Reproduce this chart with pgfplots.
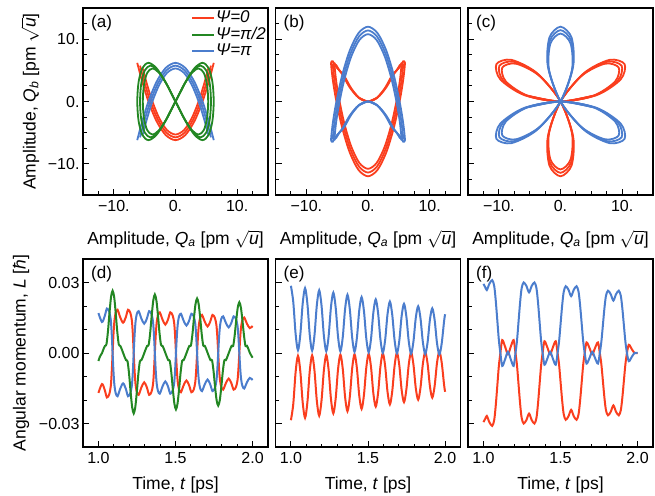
\documentclass[border=0pt]{standalone}
\usepackage{pgfplots}
\pgfplotsset{compat=1.18}
\usepackage{fontspec}
\setmainfont{Liberation Sans}
\definecolor{cred}{RGB}{250,62,30}
\definecolor{cgreen}{RGB}{35,135,35}
\definecolor{cblue}{RGB}{75,125,205}
\pgfplotsset{
  panel/.style={scale only axis, anchor=south west, axis line style={line width=1.2pt},
    tick style={line width=0.9pt, black}, tick align=inside, tick pos=left,
    major tick length=6pt, minor tick length=3.5pt,
    scaled x ticks=false, scaled y ticks=false,
    ticklabel style={font=\fontsize{16}{16}\selectfont},
    xticklabel style={yshift=-2pt},
    label style={font=\fontsize{17.5}{20}\selectfont}},
  toprow/.style={panel, width=185pt, height=187pt, xmin=-15, xmax=15, ymin=-15, ymax=15,
    xtick={-10,0,10}, ytick={-10,0,10},
    minor xtick={-12.5,-7.5,-5,-2.5,2.5,5,7.5,12.5},
    minor ytick={-12.5,-7.5,-5,-2.5,2.5,5,7.5,12.5},
    xticklabels={−10.,0.,10.}, yticklabels={,,},
    xlabel={Amplitude, \textit{Q}\textsubscript{\textit{a}} [pm $\sqrt{\textit{u}}$]},
    xlabel style={at={(axis description cs:0.5,-0.235)}, anchor=center}},
  botrow/.style={panel, width=185pt, height=188pt, xmin=0.9, xmax=2.1, ymin=-0.04, ymax=0.04,
    xtick={1,1.5,2}, ytick={-0.03,0,0.03},
    minor xtick={1.1,1.2,1.3,1.4,1.6,1.7,1.8,1.9},
    minor ytick={-0.02,-0.01,0.01,0.02},
    xticklabels={1.0,1.5,2.0}, yticklabels={,,},
    xlabel={Time, \textit{t} [ps]},
    xlabel style={at={(axis description cs:0.5,-0.20)}, anchor=center}},
  band/.style={line width=1.8pt, smooth, forget plot},
  ts/.style={line width=2pt, smooth, forget plot},
}
\newcommand{\plabel}[1]{\node[anchor=north west, inner sep=0pt, font=\fontsize{17}{17}\selectfont] at (rel axis cs:0,1) [xshift=8pt, yshift=-7pt] {#1};}
\begin{document}
\begin{tikzpicture}
\path[use as bounding box] (0pt,0pt) rectangle (655pt,495pt);
% ---------------- (a)
\begin{axis}[toprow, at={(83pt,300pt)}, yticklabels={−10.,0.,10.},
  ylabel={Amplitude, \textit{Q}\textsubscript{\textit{b}} [pm $\sqrt{\textit{u}}$]},
  ylabel style={at={(axis description cs:-0.286,0.5)}, anchor=center},
  legend style={at={(1,1)}, anchor=north east, draw=none, fill=none, yshift=-2pt,
    font=\fontsize{17}{17}\selectfont\itshape, row sep=2pt, inner sep=1pt,
    nodes={inner xsep=1pt, inner ysep=0pt, text height=11.5pt, text depth=3pt}},
  legend cell align=left,
  legend image code/.code={\draw[#1] (0pt,0pt) -- (22pt,0pt);}]
\addlegendimage{cred, line width=2pt}\addlegendentry{Ψ=0}
\addlegendimage{cgreen, line width=2pt}\addlegendentry{Ψ=π/2}
\addlegendimage{cblue, line width=2pt}\addlegendentry{Ψ=π}
\addplot[cred, band] coordinates {(-6.2,6.2) (-5.989,5.369) (-5.369,3.1) (-4.384,0) (-3.1,-3.1) (-1.606,-5.369) (0,-6.2) (1.606,-5.369) (3.1,-3.1) (4.384,0) (5.369,3.1) (5.989,5.369) (6.2,6.2)};
\addplot[cred, band] coordinates {(-5.75,5.75) (-5.555,4.98) (-4.98,2.875) (-4.065,0) (-2.875,-2.875) (-1.489,-4.98) (0,-5.75) (1.489,-4.98) (2.875,-2.875) (4.065,0) (4.98,2.875) (5.555,4.98) (5.75,5.75)};
\addplot[cred, band] coordinates {(-5.3,5.3) (-5.12,4.59) (-4.59,2.65) (-3.747,0) (-2.65,-2.65) (-1.373,-4.59) (0,-5.3) (1.373,-4.59) (2.65,-2.65) (3.747,0) (4.59,2.65) (5.12,4.59) (5.3,5.3)};
\addplot[cblue, band] coordinates {(-6.2,-6.2) (-5.989,-5.369) (-5.369,-3.1) (-4.384,0) (-3.1,3.1) (-1.606,5.369) (0,6.2) (1.606,5.369) (3.1,3.1) (4.384,0) (5.369,-3.1) (5.989,-5.369) (6.2,-6.2)};
\addplot[cblue, band] coordinates {(-5.75,-5.75) (-5.555,-4.98) (-4.98,-2.875) (-4.065,0) (-2.875,2.875) (-1.489,4.98) (0,5.75) (1.489,4.98) (2.875,2.875) (4.065,0) (4.98,-2.875) (5.555,-4.98) (5.75,-5.75)};
\addplot[cblue, band] coordinates {(-5.3,-5.3) (-5.12,-4.59) (-4.59,-2.65) (-3.747,0) (-2.65,2.65) (-1.373,4.59) (0,5.3) (1.373,4.59) (2.65,2.65) (3.747,0) (4.59,-2.65) (5.12,-4.59) (5.3,-5.3)};
\addplot[cgreen, band] coordinates {(-1.606,-3.1) (0,0) (1.606,3.1) (3.1,5.369) (4.384,6.2) (5.369,5.369) (5.989,3.1) (6.2,0) (5.989,-3.1) (5.369,-5.369) (4.384,-6.2) (3.1,-5.369) (1.606,-3.1) (0,0) (-1.606,3.1) (-3.1,5.369) (-4.384,6.2) (-5.369,5.369) (-5.989,3.1) (-6.2,0) (-5.989,-3.1) (-5.369,-5.369) (-4.384,-6.2) (-3.1,-5.369) (-1.606,-3.1) (0,0) (1.606,3.1)};
\addplot[cgreen, band] coordinates {(-1.489,-2.875) (0,0) (1.489,2.875) (2.875,4.98) (4.065,5.75) (4.98,4.98) (5.555,2.875) (5.75,0) (5.555,-2.875) (4.98,-4.98) (4.065,-5.75) (2.875,-4.98) (1.489,-2.875) (0,0) (-1.489,2.875) (-2.875,4.98) (-4.065,5.75) (-4.98,4.98) (-5.555,2.875) (-5.75,0) (-5.555,-2.875) (-4.98,-4.98) (-4.065,-5.75) (-2.875,-4.98) (-1.489,-2.875) (0,0) (1.489,2.875)};
\addplot[cgreen, band] coordinates {(-1.373,-2.65) (0,0) (1.373,2.65) (2.65,4.59) (3.747,5.3) (4.59,4.59) (5.12,2.65) (5.3,0) (5.12,-2.65) (4.59,-4.59) (3.747,-5.3) (2.65,-4.59) (1.373,-2.65) (0,0) (-1.373,2.65) (-2.65,4.59) (-3.747,5.3) (-4.59,4.59) (-5.12,2.65) (-5.3,0) (-5.12,-2.65) (-4.59,-4.59) (-3.747,-5.3) (-2.65,-4.59) (-1.373,-2.65) (0,0) (1.373,2.65)};
\plabel{(a)}
\end{axis}
% ---------------- (b)
\begin{axis}[toprow, at={(275.5pt,300pt)}]
\addplot[cred, band] coordinates {(-1.553,0.633) (0,0) (1.553,0.633) (3,2.32) (4.243,4.49) (5.196,5.6) (5.706,6.45) (5.967,6.3) (5.967,5.74) (5.706,3.45) (5.196,0.375) (4.243,-3.993) (3,-8.071) (1.553,-10.958) (0,-12) (-1.553,-10.958) (-3,-8.071) (-4.243,-3.993) (-5.196,0.375) (-5.706,3.45) (-5.967,5.74) (-5.967,6.3) (-5.706,6.45) (-5.196,5.6) (-4.243,4.49) (-3,2.32) (-1.553,0.633) (0,0) (1.553,0.633)};
\addplot[cred, band] coordinates {(-1.475,0.601) (0,0) (1.475,0.601) (2.85,2.204) (4.031,4.266) (4.936,5.32) (5.421,6.128) (5.669,5.985) (5.669,5.453) (5.421,3.278) (4.936,0.356) (4.031,-3.793) (2.85,-7.667) (1.475,-10.41) (0,-11.4) (-1.475,-10.41) (-2.85,-7.667) (-4.031,-3.793) (-4.936,0.356) (-5.421,3.278) (-5.669,5.453) (-5.669,5.985) (-5.421,6.128) (-4.936,5.32) (-4.031,4.266) (-2.85,2.204) (-1.475,0.601) (0,0) (1.475,0.601)};
\addplot[cred, band] coordinates {(-1.398,0.57) (0,0) (1.398,0.57) (2.7,2.088) (3.819,4.041) (4.676,5.04) (5.135,5.805) (5.37,5.67) (5.37,5.166) (5.135,3.105) (4.676,0.338) (3.819,-3.594) (2.7,-7.264) (1.398,-9.862) (0,-10.8) (-1.398,-9.862) (-2.7,-7.264) (-3.819,-3.594) (-4.676,0.338) (-5.135,3.105) (-5.37,5.166) (-5.37,5.67) (-5.135,5.805) (-4.676,5.04) (-3.819,4.041) (-2.7,2.088) (-1.398,0.57) (0,0) (1.398,0.57)};
\addplot[cblue, band] coordinates {(-1.553,-0.633) (0,0) (1.553,-0.633) (3,-2.32) (4.243,-4.49) (5.196,-5.6) (5.706,-6.45) (5.967,-6.3) (5.967,-5.74) (5.706,-3.45) (5.196,-0.375) (4.243,3.993) (3,8.071) (1.553,10.958) (0,12) (-1.553,10.958) (-3,8.071) (-4.243,3.993) (-5.196,-0.375) (-5.706,-3.45) (-5.967,-5.74) (-5.967,-6.3) (-5.706,-6.45) (-5.196,-5.6) (-4.243,-4.49) (-3,-2.32) (-1.553,-0.633) (0,0) (1.553,-0.633)};
\addplot[cblue, band] coordinates {(-1.475,-0.601) (0,0) (1.475,-0.601) (2.85,-2.204) (4.031,-4.266) (4.936,-5.32) (5.421,-6.128) (5.669,-5.985) (5.669,-5.453) (5.421,-3.278) (4.936,-0.356) (4.031,3.793) (2.85,7.667) (1.475,10.41) (0,11.4) (-1.475,10.41) (-2.85,7.667) (-4.031,3.793) (-4.936,-0.356) (-5.421,-3.278) (-5.669,-5.453) (-5.669,-5.985) (-5.421,-6.128) (-4.936,-5.32) (-4.031,-4.266) (-2.85,-2.204) (-1.475,-0.601) (0,0) (1.475,-0.601)};
\addplot[cblue, band] coordinates {(-1.398,-0.57) (0,0) (1.398,-0.57) (2.7,-2.088) (3.819,-4.041) (4.676,-5.04) (5.135,-5.805) (5.37,-5.67) (5.37,-5.166) (5.135,-3.105) (4.676,-0.338) (3.819,3.594) (2.7,7.264) (1.398,9.862) (0,10.8) (-1.398,9.862) (-2.7,7.264) (-3.819,3.594) (-4.676,-0.338) (-5.135,-3.105) (-5.37,-5.166) (-5.37,-5.67) (-5.135,-5.805) (-4.676,-5.04) (-3.819,-4.041) (-2.7,-2.088) (-1.398,-0.57) (0,0) (1.398,-0.57)};
\plabel{(b)}
\end{axis}
% ---------------- (c)
\begin{axis}[toprow, at={(468pt,300pt)}]
\addplot[cred, band] coordinates {(-5.909,1.042) (0,0) (5.909,1.042) (9.766,3.554) (10.392,6) (7.961,6.68) (3.857,4.596) (0,0) (-2.052,-5.638) (-1.805,-10.235) (0,-12) (1.805,-10.235) (2.052,-5.638) (0,0) (-3.857,4.596) (-7.961,6.68) (-10.392,6) (-9.766,3.554) (-5.909,1.042) (0,0) (5.909,1.042)};
\addplot[cred, band] coordinates {(-5.638,0.994) (0,0) (5.638,0.994) (9.318,3.391) (9.916,5.725) (7.596,6.374) (3.68,4.385) (0,0) (-1.958,-5.379) (-1.722,-9.766) (0,-11.45) (1.722,-9.766) (1.958,-5.379) (0,0) (-3.68,4.385) (-7.596,6.374) (-9.916,5.725) (-9.318,3.391) (-5.638,0.994) (0,0) (5.638,0.994)};
\addplot[cred, band] coordinates {(-5.367,0.946) (0,0) (5.367,0.946) (8.87,3.229) (9.439,5.45) (7.231,6.068) (3.503,4.175) (0,0) (-1.864,-5.121) (-1.639,-9.297) (0,-10.9) (1.639,-9.297) (1.864,-5.121) (0,0) (-3.503,4.175) (-7.231,6.068) (-9.439,5.45) (-8.87,3.229) (-5.367,0.946) (0,0) (5.367,0.946)};
\addplot[cblue, band] coordinates {(5.909,-1.042) (0,0) (-5.909,-1.042) (-9.766,-3.554) (-10.392,-6) (-7.961,-6.68) (-3.857,-4.596) (0,0) (2.052,5.638) (1.805,10.235) (0,12) (-1.805,10.235) (-2.052,5.638) (0,0) (3.857,-4.596) (7.961,-6.68) (10.392,-6) (9.766,-3.554) (5.909,-1.042) (0,0) (-5.909,-1.042)};
\addplot[cblue, band] coordinates {(5.638,-0.994) (0,0) (-5.638,-0.994) (-9.318,-3.391) (-9.916,-5.725) (-7.596,-6.374) (-3.68,-4.385) (0,0) (1.958,5.379) (1.722,9.766) (0,11.45) (-1.722,9.766) (-1.958,5.379) (0,0) (3.68,-4.385) (7.596,-6.374) (9.916,-5.725) (9.318,-3.391) (5.638,-0.994) (0,0) (-5.638,-0.994)};
\addplot[cblue, band] coordinates {(5.367,-0.946) (0,0) (-5.367,-0.946) (-8.87,-3.229) (-9.439,-5.45) (-7.231,-6.068) (-3.503,-4.175) (0,0) (1.864,5.121) (1.639,9.297) (0,10.9) (-1.639,9.297) (-1.864,5.121) (0,0) (3.503,-4.175) (7.231,-6.068) (9.439,-5.45) (8.87,-3.229) (5.367,-0.946) (0,0) (-5.367,-0.946)};
\plabel{(c)}
\end{axis}
% ---------------- (d)
\begin{axis}[botrow, at={(83pt,48pt)}, yticklabels={−0.03,0.00,0.03},
  ylabel={Angular momentum, \textit{L} [\textit{ħ}]},
  ylabel style={at={(axis description cs:-0.335,0.5)}, anchor=center}]
\addplot[cred, ts] coordinates {(1.000,-0.0170) (1.023,-0.0132) (1.040,-0.0155) (1.055,-0.0189) (1.070,-0.0176) (1.080,-0.0142) (1.086,-0.0085) (1.092,0)
(1.098,0.0083) (1.104,0.0138) (1.112,0.0171) (1.124,0.0184) (1.142,0.0151) (1.160,0.0129) (1.177,0.0151) (1.192,0.0184) (1.207,0.0171) (1.217,0.0138) (1.223,0.0083) (1.229,0)
(1.235,-0.0080) (1.241,-0.0134) (1.249,-0.0166) (1.261,-0.0178) (1.279,-0.0146) (1.297,-0.0125) (1.314,-0.0146) (1.329,-0.0178) (1.344,-0.0166) (1.354,-0.0134) (1.360,-0.0080) (1.366,0)
(1.372,0.0078) (1.378,0.0130) (1.386,0.0161) (1.398,0.0173) (1.416,0.0142) (1.434,0.0121) (1.451,0.0142) (1.466,0.0173) (1.481,0.0161) (1.491,0.0130) (1.497,0.0078) (1.503,0)
(1.509,-0.0075) (1.515,-0.0125) (1.523,-0.0156) (1.535,-0.0167) (1.553,-0.0137) (1.571,-0.0117) (1.588,-0.0137) (1.603,-0.0167) (1.618,-0.0156) (1.628,-0.0125) (1.634,-0.0075) (1.640,0)
(1.646,0.0073) (1.652,0.0121) (1.660,0.0150) (1.672,0.0162) (1.690,0.0133) (1.708,0.0113) (1.725,0.0133) (1.740,0.0162) (1.755,0.0150) (1.765,0.0121) (1.771,0.0073) (1.777,0)
(1.783,-0.0070) (1.789,-0.0117) (1.797,-0.0145) (1.809,-0.0156) (1.827,-0.0128) (1.845,-0.0109) (1.862,-0.0128) (1.877,-0.0156) (1.892,-0.0145) (1.902,-0.0117) (1.908,-0.0070) (1.914,0)
(1.920,0.0068) (1.926,0.0113) (1.934,0.0140) (1.946,0.0151) (1.964,0.0124) (1.982,0.0106) (2.000,0.0115)};
\addplot[cblue, ts] coordinates {(1.000,0.0170) (1.023,0.0132) (1.040,0.0155) (1.055,0.0189) (1.070,0.0176) (1.080,0.0142) (1.086,0.0085) (1.092,0)
(1.098,-0.0083) (1.104,-0.0138) (1.112,-0.0171) (1.124,-0.0184) (1.142,-0.0151) (1.160,-0.0129) (1.177,-0.0151) (1.192,-0.0184) (1.207,-0.0171) (1.217,-0.0138) (1.223,-0.0083) (1.229,0)
(1.235,0.0080) (1.241,0.0134) (1.249,0.0166) (1.261,0.0178) (1.279,0.0146) (1.297,0.0125) (1.314,0.0146) (1.329,0.0178) (1.344,0.0166) (1.354,0.0134) (1.360,0.0080) (1.366,0)
(1.372,-0.0078) (1.378,-0.0130) (1.386,-0.0161) (1.398,-0.0173) (1.416,-0.0142) (1.434,-0.0121) (1.451,-0.0142) (1.466,-0.0173) (1.481,-0.0161) (1.491,-0.0130) (1.497,-0.0078) (1.503,0)
(1.509,0.0075) (1.515,0.0125) (1.523,0.0156) (1.535,0.0167) (1.553,0.0137) (1.571,0.0117) (1.588,0.0137) (1.603,0.0167) (1.618,0.0156) (1.628,0.0125) (1.634,0.0075) (1.640,0)
(1.646,-0.0073) (1.652,-0.0121) (1.660,-0.0150) (1.672,-0.0162) (1.690,-0.0133) (1.708,-0.0113) (1.725,-0.0133) (1.740,-0.0162) (1.755,-0.0150) (1.765,-0.0121) (1.771,-0.0073) (1.777,0)
(1.783,0.0070) (1.789,0.0117) (1.797,0.0145) (1.809,0.0156) (1.827,0.0128) (1.845,0.0109) (1.862,0.0128) (1.877,0.0156) (1.892,0.0145) (1.902,0.0117) (1.908,0.0070) (1.914,0)
(1.920,-0.0068) (1.926,-0.0113) (1.934,-0.0140) (1.946,-0.0151) (1.964,-0.0124) (1.982,-0.0106) (2.000,-0.0115)};
\addplot[cgreen, ts] coordinates {(1.000,-0.0034) (1.010,-0.0015) (1.0235,0)
(1.032,0.0015) (1.042,0.0030) (1.052,0.0037) (1.062,0.0093) (1.072,0.0172) (1.082,0.0239) (1.092,0.0265) (1.102,0.0239) (1.112,0.0172) (1.122,0.0093) (1.132,0.0037) (1.142,0.0030) (1.152,0.0015) (1.1605,0)
(1.169,-0.0015) (1.179,-0.0030) (1.189,-0.0036) (1.199,-0.0090) (1.209,-0.0167) (1.219,-0.0231) (1.229,-0.0257) (1.239,-0.0231) (1.249,-0.0167) (1.259,-0.0090) (1.269,-0.0036) (1.279,-0.0030) (1.289,-0.0015) (1.2975,0)
(1.306,0.0015) (1.316,0.0030) (1.326,0.0035) (1.336,0.0087) (1.346,0.0162) (1.356,0.0224) (1.366,0.0249) (1.376,0.0224) (1.386,0.0162) (1.396,0.0087) (1.406,0.0035) (1.416,0.0030) (1.426,0.0015) (1.4345,0)
(1.443,-0.0015) (1.453,-0.0030) (1.463,-0.0034) (1.473,-0.0084) (1.483,-0.0156) (1.493,-0.0216) (1.503,-0.0240) (1.513,-0.0216) (1.523,-0.0156) (1.533,-0.0084) (1.543,-0.0034) (1.553,-0.0030) (1.563,-0.0015) (1.5715,0)
(1.580,0.0015) (1.590,0.0030) (1.600,0.0032) (1.610,0.0081) (1.620,0.0151) (1.630,0.0209) (1.640,0.0232) (1.650,0.0209) (1.660,0.0151) (1.670,0.0081) (1.680,0.0032) (1.690,0.0030) (1.700,0.0015) (1.7085,0)
(1.717,-0.0015) (1.727,-0.0030) (1.737,-0.0031) (1.747,-0.0078) (1.757,-0.0146) (1.767,-0.0202) (1.777,-0.0224) (1.787,-0.0202) (1.797,-0.0146) (1.807,-0.0078) (1.817,-0.0031) (1.827,-0.0030) (1.837,-0.0015) (1.8455,0)
(1.854,0.0015) (1.864,0.0030) (1.874,0.0030) (1.884,0.0076) (1.894,0.0140) (1.904,0.0194) (1.914,0.0216) (1.924,0.0194) (1.934,0.0140) (1.944,0.0076) (1.954,0.0030) (1.964,0.0030) (1.974,0.0015) (1.9825,0) (2.000,-0.0020)};
\plabel{(d)}
\end{axis}
% ---------------- (e)
\begin{axis}[botrow, at={(275.5pt,48pt)}]
\addplot[cred, ts] coordinates {(1.0000,-0.0286) (1.0153,-0.0217) (1.0306,-0.0080) (1.0458,-0.0012) (1.0611,-0.0079) (1.0764,-0.0211) (1.0917,-0.0276) (1.1070,-0.0209) (1.1223,-0.0076) (1.1375,-0.0010) (1.1528,-0.0075) (1.1681,-0.0204) (1.1834,-0.0267) (1.1987,-0.0201) (1.2140,-0.0072) (1.2292,-0.0008) (1.2445,-0.0071) (1.2598,-0.0196) (1.2751,-0.0257) (1.2904,-0.0193) (1.3057,-0.0069) (1.3209,-0.0007) (1.3362,-0.0067) (1.3515,-0.0188) (1.3668,-0.0248) (1.3821,-0.0186) (1.3974,-0.0065) (1.4126,-0.0005) (1.4279,-0.0064) (1.4432,-0.0181) (1.4585,-0.0238) (1.4738,-0.0178) (1.4891,-0.0061) (1.5043,-0.0003) (1.5196,-0.0060) (1.5349,-0.0173) (1.5502,-0.0228) (1.5655,-0.0170) (1.5808,-0.0057) (1.5960,-0.0001) (1.6113,-0.0056) (1.6266,-0.0165) (1.6419,-0.0219) (1.6572,-0.0163) (1.6725,-0.0054) (1.6877,0.0001) (1.7030,-0.0052) (1.7183,-0.0158) (1.7336,-0.0209) (1.7489,-0.0155) (1.7642,-0.0050) (1.7794,0.0003) (1.7947,-0.0049) (1.8100,-0.0150) (1.8253,-0.0199) (1.8406,-0.0147) (1.8559,-0.0046) (1.8711,0.0004) (1.8864,-0.0045) (1.9017,-0.0142) (1.9170,-0.0190) (1.9323,-0.0140) (1.9476,-0.0042) (1.9628,0.0006) (1.9781,-0.0041) (1.9934,-0.0135) (2.0000,-0.0165)};
\addplot[cblue, ts] coordinates {(1.0000,0.0286) (1.0153,0.0217) (1.0306,0.0080) (1.0458,0.0012) (1.0611,0.0079) (1.0764,0.0211) (1.0917,0.0276) (1.1070,0.0209) (1.1223,0.0076) (1.1375,0.0010) (1.1528,0.0075) (1.1681,0.0204) (1.1834,0.0267) (1.1987,0.0201) (1.2140,0.0072) (1.2292,0.0008) (1.2445,0.0071) (1.2598,0.0196) (1.2751,0.0257) (1.2904,0.0193) (1.3057,0.0069) (1.3209,0.0007) (1.3362,0.0067) (1.3515,0.0188) (1.3668,0.0248) (1.3821,0.0186) (1.3974,0.0065) (1.4126,0.0005) (1.4279,0.0064) (1.4432,0.0181) (1.4585,0.0238) (1.4738,0.0178) (1.4891,0.0061) (1.5043,0.0003) (1.5196,0.0060) (1.5349,0.0173) (1.5502,0.0228) (1.5655,0.0170) (1.5808,0.0057) (1.5960,0.0001) (1.6113,0.0056) (1.6266,0.0165) (1.6419,0.0219) (1.6572,0.0163) (1.6725,0.0054) (1.6877,-0.0001) (1.7030,0.0052) (1.7183,0.0158) (1.7336,0.0209) (1.7489,0.0155) (1.7642,0.0050) (1.7794,-0.0003) (1.7947,0.0049) (1.8100,0.0150) (1.8253,0.0199) (1.8406,0.0147) (1.8559,0.0046) (1.8711,-0.0004) (1.8864,0.0045) (1.9017,0.0142) (1.9170,0.0190) (1.9323,0.0140) (1.9476,0.0042) (1.9628,-0.0006) (1.9781,0.0041) (1.9934,0.0135) (2.0000,0.0165)};
\plabel{(e)}
\end{axis}
% ---------------- (f)
\begin{axis}[botrow, at={(468pt,48pt)}]
\addplot[cred, ts] coordinates {(1.000,-0.0294) (1.011,-0.0281) (1.022,-0.0268) (1.039,-0.0295) (1.057,-0.0310) (1.070,-0.0285) (1.080,-0.0223) (1.090,-0.0140) (1.100,-0.0056) (1.110,0) (1.122,0.0055) (1.140,0.0028) (1.159,-0.0005) (1.178,0.0028) (1.196,0.0055) (1.208,0) (1.218,-0.0054) (1.228,-0.0135) (1.238,-0.0216) (1.248,-0.0276) (1.261,-0.0300) (1.279,-0.0285) (1.296,-0.0258) (1.313,-0.0285) (1.331,-0.0300) (1.344,-0.0276) (1.354,-0.0216) (1.364,-0.0135) (1.374,-0.0054) (1.384,0) (1.396,0.0050) (1.414,0.0025) (1.433,-0.0005) (1.451,0.0025) (1.469,0.0050) (1.481,0) (1.491,-0.0051) (1.501,-0.0128) (1.511,-0.0204) (1.521,-0.0261) (1.534,-0.0284) (1.552,-0.0269) (1.569,-0.0242) (1.586,-0.0269) (1.604,-0.0284) (1.617,-0.0261) (1.627,-0.0204) (1.637,-0.0128) (1.647,-0.0051) (1.657,0) (1.669,0.0045) (1.687,0.0023) (1.706,-0.0005) (1.725,0.0023) (1.743,0.0045) (1.755,0) (1.765,-0.0048) (1.775,-0.0119) (1.785,-0.0191) (1.795,-0.0244) (1.808,-0.0265) (1.826,-0.0250) (1.843,-0.0223) (1.860,-0.0250) (1.878,-0.0265) (1.891,-0.0244) (1.901,-0.0191) (1.911,-0.0119) (1.921,-0.0048) (1.931,0) (1.943,0.0035) (1.961,0.0018) (1.980,0) (2.000,0)};
\addplot[cblue, ts] coordinates {(1.000,0.0294) (1.011,0.0281) (1.022,0.0268) (1.039,0.0295) (1.057,0.0310) (1.070,0.0285) (1.080,0.0223) (1.090,0.0140) (1.100,0.0056) (1.110,0) (1.122,-0.0055) (1.140,-0.0028) (1.159,0.0005) (1.178,-0.0028) (1.196,-0.0055) (1.208,0) (1.218,0.0054) (1.228,0.0135) (1.238,0.0216) (1.248,0.0276) (1.261,0.0300) (1.279,0.0285) (1.296,0.0258) (1.313,0.0285) (1.331,0.0300) (1.344,0.0276) (1.354,0.0216) (1.364,0.0135) (1.374,0.0054) (1.384,0) (1.396,-0.0050) (1.414,-0.0025) (1.433,0.0005) (1.451,-0.0025) (1.469,-0.0050) (1.481,0) (1.491,0.0051) (1.501,0.0128) (1.511,0.0204) (1.521,0.0261) (1.534,0.0284) (1.552,0.0269) (1.569,0.0242) (1.586,0.0269) (1.604,0.0284) (1.617,0.0261) (1.627,0.0204) (1.637,0.0128) (1.647,0.0051) (1.657,0) (1.669,-0.0045) (1.687,-0.0023) (1.706,0.0005) (1.725,-0.0023) (1.743,-0.0045) (1.755,0) (1.765,0.0048) (1.775,0.0119) (1.785,0.0191) (1.795,0.0244) (1.808,0.0265) (1.826,0.0250) (1.843,0.0223) (1.860,0.0250) (1.878,0.0265) (1.891,0.0244) (1.901,0.0191) (1.911,0.0119) (1.921,0.0048) (1.931,0) (1.943,-0.0035) (1.961,-0.0018) (1.980,0) (2.000,0)};
\plabel{(f)}
\end{axis}
\end{tikzpicture}
\end{document}
